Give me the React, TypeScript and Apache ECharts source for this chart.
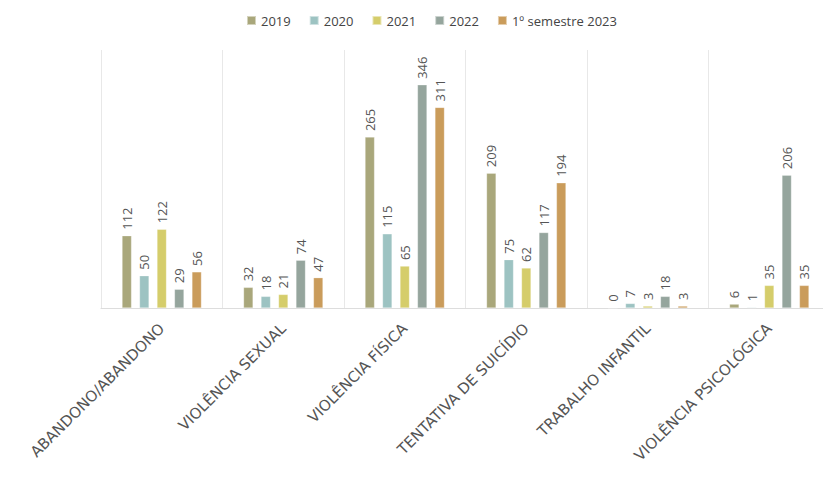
import React, { useEffect, useRef } from "react";
import * as echarts from "echarts";

const categories = [
  "ABANDONO/ABANDONO",
  "VIOLÊNCIA SEXUAL",
  "VIOLÊNCIA FÍSICA",
  "TENTATIVA DE SUICÍDIO",
  "TRABALHO INFANTIL",
  "VIOLÊNCIA PSICOLÓGICA",
];
const seriesNames = ["2019", "2020", "2021", "2022", "1º semestre 2023"];
const v2019 = [112, 32, 265, 209, 0, 6];
const v2020 = [50, 18, 115, 75, 7, 1];
const v2021 = [122, 21, 65, 62, 3, 35];
const v2022 = [29, 74, 346, 117, 18, 206];
const v2023 = [56, 47, 311, 194, 3, 35];
const colors = ["#a9a77b", "#9dc3c2", "#d5cd6b", "#95a59d", "#ca9c5b"];

export default function App() {
  const ref = useRef<HTMLDivElement>(null);
  useEffect(() => {
    if (!ref.current) return;
    const chart = echarts.init(ref.current, null, { renderer: "svg" });
    const data = [v2019, v2020, v2021, v2022, v2023];
    chart.setOption({
      animation: false,
      color: colors,
      textStyle: { fontFamily: "Open Sans" },
      legend: {
        top: 9,
        left: 241,
        itemWidth: 9,
        itemHeight: 9,
        itemGap: 18,
        icon: "rect",
        textStyle: { fontSize: 13, color: "#444", fontFamily: "Open Sans" },
        data: seriesNames,
      },
      grid: { left: 101, top: 50, right: 0, height: 258, containLabel: false },
      xAxis: {
        type: "category",
        data: categories,
        axisLine: { show: true, lineStyle: { color: "#dddddd" } },
        axisTick: { show: false },
        splitLine: { show: true, lineStyle: { color: "#e8e8e8" } },
        axisLabel: {
          rotate: 45,
          interval: 0,
          margin: 18,
          fontSize: 15,
          color: "#555",
          fontFamily: "DejaVu Sans",
        },
      },
      yAxis: {
        type: "value",
        min: 0,
        max: 400,
        show: false,
        splitLine: { show: false },
      },
      series: seriesNames.map((name, i) => ({
        name,
        type: "bar",
        data: data[i],
        barWidth: 9.5,
        barGap: "84%",
        itemStyle: { color: colors[i], borderColor: "rgba(255,255,255,0.5)", borderWidth: 0.5 },
        label: {
          show: true,
          position: "top",
          rotate: 90,
          align: "left",
          verticalAlign: "middle",
          distance: 6,
          fontSize: 13,
          color: "#555",
          fontFamily: "Open Sans",
        },
      })),
    });
    return () => chart.dispose();
  }, []);
  return (
    <div style={{ position: "fixed", left: 0, top: 0, width: 823, height: 480, overflow: "hidden", background: "#fff" }}>
      <div ref={ref} style={{ width: 830, height: 480 }} />
    </div>
  );
}
